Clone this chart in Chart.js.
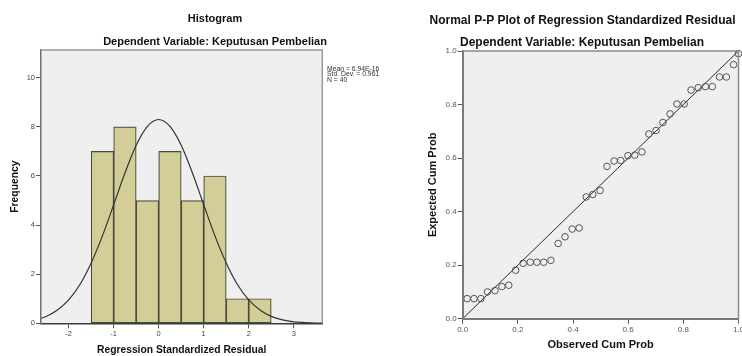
<!DOCTYPE html>
<html>
<head>
<meta charset="utf-8">
<script src="https://cdn.jsdelivr.net/npm/chart.js@4.4.0/dist/chart.umd.min.js"></script>
<style>
  html, body { margin: 0; padding: 0; background: #fff; overflow: hidden; }
  #wrap { position: relative; width: 742px; height: 356px; overflow: hidden; }
  canvas { position: absolute; top: 0; }
  #histChart { left: 0; }
  #ppChart { left: 425px; }
</style>
</head>
<body>
<div id="wrap">
  <canvas id="histChart" width="430" height="356"></canvas>
  <canvas id="ppChart" width="330" height="356"></canvas>
</div>
<script>
// histogram: bins of 0.5 wide, centres and counts
const binCenters = [-1.25, -0.75, -0.25, 0.25, 0.75, 1.25, 1.75, 2.25];
const frequencies = [7, 8, 5, 7, 5, 6, 1, 1];

// normal curve
const curveX = [-2.615, -2.5, -2.25, -2, -1.75, -1.5, -1.25, -1, -0.75, -0.5, -0.25, 0,
                0.25, 0.5, 0.75, 1, 1.25, 1.5, 1.75, 2, 2.25, 2.5, 2.75, 3, 3.25, 3.5, 3.635];
const curveY = [0.2, 0.28, 0.54, 0.95, 1.58, 2.46, 3.56, 4.83, 6.12, 7.25, 8.02, 8.3,
                8.02, 7.25, 6.12, 4.83, 3.56, 2.46, 1.58, 0.95, 0.54, 0.28, 0.14, 0.06, 0.03, 0.01, 0.006];

const histXTicks = [-2, -1, 0, 1, 2, 3];
const histYTicks = [0, 2, 4, 6, 8, 10];
const histStats = ["Mean = 6.94E-16", "Std. Dev. = 0.961", "N = 40"];

// P-P plot
const observedCum = [0.016, 0.041, 0.066, 0.090, 0.117, 0.142, 0.167, 0.192, 0.219, 0.245,
                     0.269, 0.294, 0.320, 0.346, 0.371, 0.397, 0.422, 0.448, 0.472, 0.498,
                     0.523, 0.549, 0.573, 0.599, 0.624, 0.650, 0.675, 0.701, 0.726, 0.752,
                     0.777, 0.803, 0.828, 0.854, 0.880, 0.905, 0.931, 0.956, 0.982, 1.0];
const expectedCum = [0.075, 0.075, 0.075, 0.100, 0.105, 0.120, 0.125, 0.181, 0.207, 0.211,
                     0.211, 0.211, 0.218, 0.281, 0.306, 0.335, 0.339, 0.455, 0.464, 0.479,
                     0.569, 0.589, 0.591, 0.609, 0.611, 0.623, 0.690, 0.703, 0.733, 0.765,
                     0.802, 0.802, 0.854, 0.863, 0.867, 0.867, 0.903, 0.903, 0.949, 0.990];
const ppTicks = [0, 0.2, 0.4, 0.6, 0.8, 1.0];
const refLine = [0, 1];

const FONT = "'Liberation Sans', Arial, sans-serif";
Chart.defaults.font.family = FONT;

// grey plot box, top + right edges
function frame(fill, edge) {
  return {
    id: "frame",
    beforeDraw(chart) {
      const { ctx, chartArea: a } = chart;
      ctx.save();
      ctx.fillStyle = fill;
      ctx.fillRect(a.left, a.top, a.width, a.height);
      ctx.restore();
    },
    afterDraw(chart) {
      const { ctx, chartArea: a } = chart;
      ctx.save();
      ctx.strokeStyle = edge;
      ctx.lineWidth = 1.5;
      ctx.beginPath();
      ctx.moveTo(a.left, a.top);
      ctx.lineTo(a.right, a.top);
      ctx.lineTo(a.right, a.bottom);
      ctx.stroke();
      ctx.restore();
    }
  };
}

// free text (titles, stats box)
function headings(lines) {
  return {
    id: "headings",
    afterDraw(chart) {
      const ctx = chart.ctx;
      ctx.save();
      ctx.textBaseline = "middle";
      lines.forEach(l => {
        ctx.font = l.font;
        ctx.fillStyle = l.color || "#111";
        ctx.textAlign = l.align || "center";
        ctx.fillText(l.text, l.x, l.y);
      });
      ctx.restore();
    }
  };
}

const tickGrid = { drawOnChartArea: false, drawTicks: true, tickLength: 5, color: "#555", lineWidth: 1 };

// ---- histogram
const histLines = [
  { text: "Histogram", x: 215, y: 19, font: "bold 11px " + FONT },
  { text: "Dependent Variable: Keputusan Pembelian", x: 215, y: 42, font: "bold 11px " + FONT }
];
histStats.forEach((t, i) => {
  histLines.push({ text: t, x: 327, y: 69.3 + i * 5.3, font: "6.8px " + FONT, align: "left", color: "#333" });
});

new Chart(document.getElementById("histChart"), {
  type: "bar",
  data: {
    datasets: [
      {
        type: "line",
        data: curveX.map((x, i) => ({ x: x, y: curveY[i] })),
        borderColor: "#333",
        borderWidth: 1.2,
        pointRadius: 0,
        cubicInterpolationMode: "monotone",
        order: 0
      },
      {
        type: "bar",
        data: binCenters.map((x, i) => ({ x: x, y: frequencies[i] })),
        backgroundColor: "#D3CE97",
        borderColor: "#4a4a3e",
        borderWidth: 1.2,
        borderSkipped: false,
        barPercentage: 1,
        categoryPercentage: 1,
        order: 1
      }
    ]
  },
  options: {
    responsive: false,
    animation: false,
    layout: { padding: { left: 0, top: 50, right: 107.7, bottom: 0 } },
    plugins: { legend: { display: false }, tooltip: { enabled: false } },
    scales: {
      x: {
        type: "linear",
        offset: false,
        min: -2.615,
        max: 3.635,
        afterBuildTicks: s => { s.ticks = histXTicks.map(v => ({ value: v })); },
        afterFit: s => { s.height = 32.7; s.paddingLeft = 0; s.paddingRight = 0; },
        ticks: { font: { size: 7.5 }, color: "#444", padding: 1, maxRotation: 0, autoSkip: false },
        grid: Object.assign({}, tickGrid, { offset: false }),
        border: { color: "#3c3c3c", width: 1.5, z: 1 },
        title: { display: true, text: "Regression Standardized Residual", color: "#111",
                 font: { size: 10.3, weight: "bold" }, padding: { top: 0, bottom: 0 } }
      },
      y: {
        min: 0,
        max: 11.13,
        afterBuildTicks: s => { s.ticks = histYTicks.map(v => ({ value: v })); },
        afterFit: s => { s.width = 41; s.paddingTop = 0; s.paddingBottom = 0; },
        ticks: { font: { size: 7.5 }, color: "#444", padding: 1, autoSkip: false },
        grid: tickGrid,
        border: { color: "#707070", width: 1.5, z: 1 },
        title: { display: true, text: "Frequency", color: "#111",
                 font: { size: 10.3, weight: "bold" }, padding: { top: 8.8, bottom: 0 } }
      }
    }
  },
  plugins: [frame("#EFEFEF", "#9a9a9a"), headings(histLines)]
});

// ---- P-P plot
const ppLines = [
  { text: "Normal P-P Plot of Regression Standardized Residual", x: 157.5, y: 21, font: "bold 12px " + FONT },
  { text: "Dependent Variable: Keputusan Pembelian", x: 157, y: 43, font: "bold 12px " + FONT }
];

new Chart(document.getElementById("ppChart"), {
  type: "scatter",
  data: {
    datasets: [
      {
        type: "line",
        data: refLine.map(v => ({ x: v, y: v })),
        borderColor: "#2b2b2b",
        borderWidth: 1,
        pointRadius: 0,
        order: 1
      },
      {
        data: observedCum.map((x, i) => ({ x: x, y: expectedCum[i] })),
        pointStyle: "circle",
        pointRadius: 3.3,
        borderColor: "#555",
        borderWidth: 1,
        backgroundColor: "rgba(0,0,0,0)",
        clip: 8,
        order: 0
      }
    ]
  },
  options: {
    responsive: false,
    animation: false,
    layout: { padding: { left: 0, top: 51, right: 16.5, bottom: 0 } },
    plugins: { legend: { display: false }, tooltip: { enabled: false } },
    scales: {
      x: {
        type: "linear",
        min: 0,
        max: 1,
        afterBuildTicks: s => { s.ticks = ppTicks.map(v => ({ value: v })); },
        afterFit: s => { s.height = 37.3; s.paddingLeft = 0; s.paddingRight = 0; },
        ticks: { font: { size: 8 }, color: "#555", padding: 1, maxRotation: 0, autoSkip: false,
                 callback: v => v.toFixed(1) },
        grid: tickGrid,
        border: { color: "#7a7a7a", width: 2, z: 1 },
        title: { display: true, text: "Observed Cum Prob", color: "#111",
                 font: { size: 11, weight: "bold" }, padding: { top: 0, bottom: 4.4 } }
      },
      y: {
        min: 0,
        max: 1,
        afterBuildTicks: s => { s.ticks = ppTicks.map(v => ({ value: v })); },
        afterFit: s => { s.width = 37.7; s.paddingTop = 0; s.paddingBottom = 0; },
        ticks: { font: { size: 8 }, color: "#555", padding: 1, autoSkip: false,
                 callback: v => v.toFixed(1) },
        grid: tickGrid,
        border: { color: "#7a7a7a", width: 2, z: 1 },
        title: { display: true, text: "Expected Cum Prob", color: "#111",
                 font: { size: 11, weight: "bold" }, padding: { top: 1.4, bottom: 0 } }
      }
    }
  },
  plugins: [frame("#EFEFEF", "#8a8a8a"), headings(ppLines)]
});
</script>
</body>
</html>
